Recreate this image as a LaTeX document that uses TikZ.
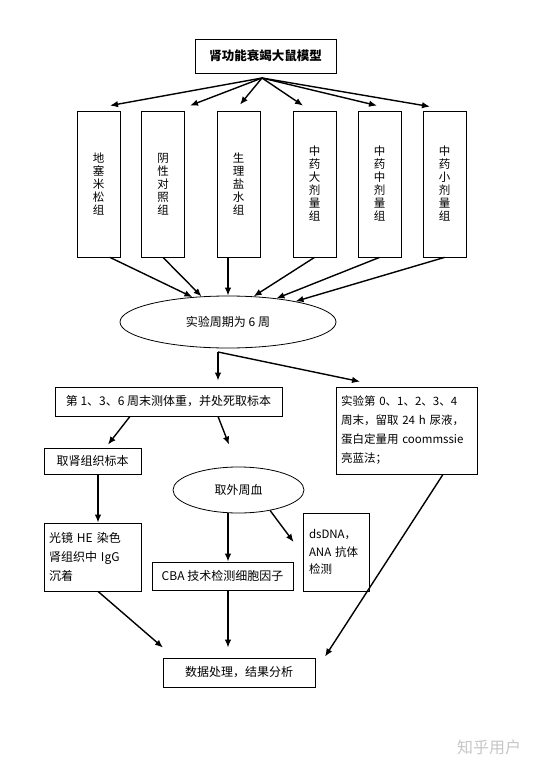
\documentclass[tikz,border=0pt]{standalone}
\usepackage{fontspec}
\newfontfamily\cjk{Noto Sans CJK SC}
\usetikzlibrary{shapes,backgrounds}
\usetikzlibrary{arrows.meta}

\tikzset{
  box/.style={draw, line width=0.8pt, inner sep=0pt, font=\cjk\fontsize{12}{19}\selectfont},
  tall/.style={box, minimum width=43, minimum height=146, align=center, font=\cjk\fontsize{11.5}{13}\selectfont},
  oval/.style={draw, ellipse, line width=0.8pt, inner sep=0pt, font=\cjk\fontsize{12}{14}\selectfont},
  arr/.style={-{Latex[length=8pt,width=6.5pt]}, line width=1.4pt},
}

\begin{document}
\begin{tikzpicture}[x=1pt,y=-1pt]
\useasboundingbox (0,0) rectangle (536,770);
% top: model and the six groups
\node[box, minimum width=141, minimum height=34, font=\cjk\fontsize{12.5}{14}\selectfont\bfseries] (model) at (265.5,56) {肾功能衰竭大鼠模型};
\node[tall] (g1) at (98.5,184) {地\\塞\\米\\松\\组};
\node[tall] (g2) at (163,184) {阴\\性\\对\\照\\组};
\node[tall] (g3) at (238.5,184) {生\\理\\盐\\水\\组};
\node[tall] (g4) at (314.5,184) {中\\药\\大\\剂\\量\\组};
\node[tall] (g5) at (379.5,184) {中\\药\\中\\剂\\量\\组};
\node[tall] (g6) at (444.5,184) {中\\药\\小\\剂\\量\\组};
\coordinate (fork) at (262,78);
\draw[arr] (fork) -- ([xshift=11.5pt,yshift=5pt]g1.north);
\draw[arr] (fork) -- ([xshift=27pt,yshift=5pt]g2.north);
\draw[arr] (fork) -- ([xshift=1.5pt,yshift=6pt]g3.north);
\draw[arr] (fork) -- ([xshift=-11.5pt,yshift=5pt]g4.north);
\draw[arr] (fork) -- ([xshift=-2.5pt,yshift=5pt]g5.north);
\draw[arr] (fork) -- ([xshift=-14.5pt,yshift=4pt]g6.north);

% six weeks
\node[oval, minimum width=216, minimum height=52] (period) at (228,322) {实验周期为 6 周};
\draw[arr] ([xshift=11.5pt]g1.south) -- (period.145);
\draw[arr] (g2.south) -- (period.136);
\draw[arr] ([xshift=-10.5pt]g3.south) -- (period.90);
\draw[arr] (g4.south) -- (period.45);
\draw[arr] (g5.south) -- (period.26.5);
\draw[arr] (g6.south) -- (period.17);

% measuring
\node[box, minimum width=227, minimum height=29] (weigh) at (168.5,401.5) {第 1、3、6 周末测体重，并处死取标本};
\node[box, minimum width=141, minimum height=87, text width=131, inner xsep=5, align=left, font=\cjk\fontsize{11.5}{19}\selectfont] (urine) at (406.5,430.5) {实验第 0、1、2、3、4\\周末，留取 24 h 尿液，\\蛋白定量用 coommssie\\亮蓝法；};
\coordinate (split) at (218,352);
\draw[arr] (split) -- ([xshift=49.5pt,yshift=6pt]weigh.north);
\draw[arr] (split) -- ([xshift=-46.5pt,yshift=5pt]urine.north);

\node[box, minimum width=97, minimum height=26] (kidney) at (92.5,461) {取肾组织标本};
\node[oval, minimum width=131, minimum height=46] (blood) at (238.5,490) {取外周血};
\draw[arr] ([xshift=-38.5pt]weigh.south) -- ([xshift=15.5pt,yshift=3pt]kidney.north);
\draw[arr] ([xshift=49.5pt]weigh.south) -- ([xshift=-9.5pt,yshift=22pt]blood.north);

\node[box, minimum width=97, minimum height=68, text width=87, inner xsep=5, align=left] (he) at (92.5,557) {光镜 HE 染色\\肾组织中 IgG\\沉着};
\node[box, minimum width=141, minimum height=28] (cba) at (222.5,576) {CBA 技术检测细胞因子};
\node[box, minimum width=66, minimum height=78, text width=54, inner xsep=6, align=left, font=\cjk\fontsize{11.5}{17.5}\selectfont] (ds) at (336,552) {dsDNA，\\ANA 抗体\\检测\\[4pt]};
\draw[arr] ([xshift=5.5pt]kidney.south) -- ([xshift=5.5pt]he.north);
\draw[arr] ([xshift=-10.5pt]blood.south) -- ([xshift=5.5pt]cba.north);
\draw[arr] (blood.-33) -- ([xshift=-9pt,yshift=10pt]ds.west);

% result
\node[box, minimum width=152, minimum height=29] (result) at (239,672.5) {数据处理，结果分析};
\draw[arr] ([xshift=5.5pt]he.south) -- ([xshift=-76pt,yshift=10pt]result.north);
\draw[arr] ([xshift=5.5pt]cba.south) -- ([xshift=-11pt,yshift=10pt]result.north);
\draw[arr] ([xshift=36.5pt]urine.south) -- ([xshift=86pt,yshift=1pt]result.north);

\node[text=gray!45, font=\cjk\fontsize{16}{18}\selectfont] (logo) at (489,747) {知乎用户};
\end{tikzpicture}
\end{document}
